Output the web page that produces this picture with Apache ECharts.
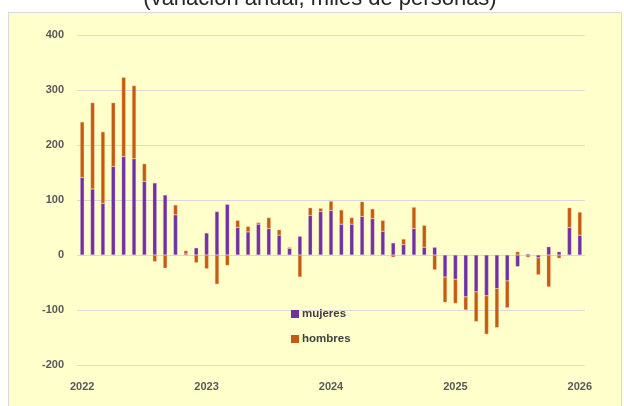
<!DOCTYPE html>
<html>
<head>
<meta charset="utf-8">
<script src="https://cdn.jsdelivr.net/npm/echarts@6/dist/echarts.min.js"></script>
<style>
html,body{margin:0;padding:0;background:#ffffff;}
#chart{width:624px;height:406px;}
</style>
</head>
<body>
<div id="chart"></div>
<script>
const titleText = '(variación anual, miles de personas)';
const months = [
  '2022-01','2022-02','2022-03','2022-04','2022-05','2022-06','2022-07','2022-08','2022-09','2022-10','2022-11','2022-12',
  '2023-01','2023-02','2023-03','2023-04','2023-05','2023-06','2023-07','2023-08','2023-09','2023-10','2023-11','2023-12',
  '2024-01','2024-02','2024-03','2024-04','2024-05','2024-06','2024-07','2024-08','2024-09','2024-10','2024-11','2024-12',
  '2025-01','2025-02','2025-03','2025-04','2025-05','2025-06','2025-07','2025-08','2025-09','2025-10','2025-11','2025-12',
  '2026-01'
];
const mujeres = [
  141,120,94,161,179,175,134,131,109,73,2,13,
  40,79,92,50,42,56,48,36,12,34,72,79,
  81,56,56,70,66,43,22,19,48,14,14,-40,
  -44,-76,-67,-74,-61,-47,-21,2,-5,15,6,50,
  36
];
const hombres = [
  101,157,130,116,144,133,32,-12,-24,18,6,-14,
  -25,-53,-19,13,10,3,20,10,2,-40,14,6,
  17,26,12,27,18,20,-4,10,39,40,-27,-46,
  -44,-24,-54,-70,-71,-49,6,-4,-31,-58,-6,36,
  42
];
const seriesNames = ['mujeres','hombres'];
const yMin = -200, yMax = 400, yStep = 100;

const chart = echarts.init(document.getElementById('chart'), null, {renderer:'canvas'});
const axisFont = {fontFamily:"'Liberation Sans Narrow','Liberation Sans',Arial,sans-serif", fontWeight:'bold', fontSize:11, color:'#595959'};
chart.setOption({
  animation:false,
  backgroundColor:'#ffffff',
  graphic:[
    {type:'rect', z:-10, shape:{x:8.5,y:12.5,width:613,height:400},
     style:{fill:'#FFFFCC', stroke:'#D9D9D9', lineWidth:1}},
    {type:'text', z:10, x:320, y:-1,
     style:{text:titleText, font:"22px 'Liberation Sans', Arial, sans-serif", fill:'#262626', textAlign:'center', textVerticalAlign:'middle'}}
  ],
  grid:{left:77, right:39, top:35, bottom:41, containLabel:false},
  legend:{
    orient:'vertical', left:291, top:308, padding:0, itemWidth:8, itemHeight:8, itemGap:13,
    icon:'rect',
    itemStyle:{borderWidth:0},
    textStyle:{fontFamily:"'Liberation Sans Narrow','Liberation Sans',Arial,sans-serif", fontWeight:'bold', fontSize:11.5, color:'#404040', padding:[0,0,0,-2]},
    data:seriesNames
  },
  xAxis:{
    type:'category', data:months, boundaryGap:true,
    axisLine:{show:false}, axisTick:{show:false},
    axisLabel:Object.assign({interval:11, margin:16, formatter:v=>v.slice(0,4)}, axisFont),
    splitLine:{show:false}
  },
  yAxis:{
    type:'value', min:yMin, max:yMax, interval:yStep,
    axisLine:{show:false}, axisTick:{show:false},
    axisLabel:Object.assign({margin:13}, axisFont),
    splitLine:{lineStyle:{color:'#D9D9D9', width:1}}
  },
  series:[
    {name:seriesNames[0], type:'bar', stack:'t', data:mujeres, barWidth:4,
     itemStyle:{color:'#7030A0', borderColor:'rgba(200,170,220,0.7)', borderWidth:0.5}},
    {name:seriesNames[1], type:'bar', stack:'t', data:hombres, barWidth:4,
     itemStyle:{color:'#C55A11', borderColor:'rgba(240,200,150,0.7)', borderWidth:0.5}}
  ]
});
</script>
</body>
</html>
